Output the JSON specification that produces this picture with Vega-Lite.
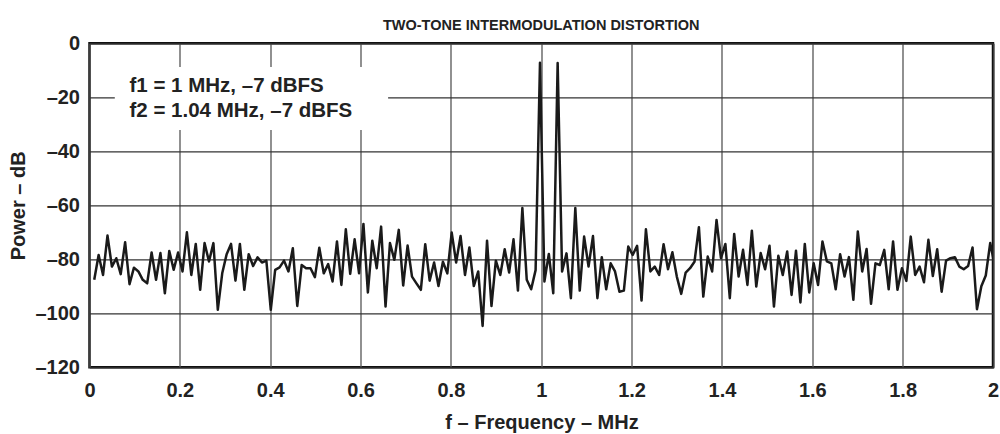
{
  "$schema": "https://vega.github.io/schema/vega-lite/v6.json",
  "autosize": {"type": "none"},
  "width": 903.5,
  "height": 324,
  "padding": {"left": 89.5, "top": 43.3, "right": 7, "bottom": 66.7},
  "background": "white",
  "title": {
    "text": "TWO-TONE INTERMODULATION DISTORTION",
    "font": "Liberation Sans",
    "fontSize": 14.5,
    "fontWeight": "bold",
    "color": "#222",
    "anchor": "middle",
    "frame": "group",
    "baseline": "alphabetic",
    "offset": 16,
    "dy": 27
  },
  "config": {
    "view": {"stroke": "#111", "strokeWidth": 2.5},
    "font": "Liberation Sans",
    "axis": {
      "labelFont": "Liberation Sans",
      "labelFontWeight": "bold",
      "labelFontSize": 20,
      "labelColor": "#222",
      "titleFont": "Liberation Sans",
      "titleFontWeight": "bold",
      "titleFontSize": 20,
      "titleColor": "#222",
      "domain": false,
      "ticks": false,
      "gridOpacity": 1
    }
  },
  "layer": [
    {
      "data": {
        "values": [
          {"f": 0.0105, "db": -87.6}, {"f": 0.0202, "db": -78.4}, {"f": 0.0300, "db": -85.8}, {"f": 0.0398, "db": -71.2}, {"f": 0.0496, "db": -82.7},
          {"f": 0.0593, "db": -79.6}, {"f": 0.0691, "db": -85.5}, {"f": 0.0789, "db": -73.7}, {"f": 0.0886, "db": -89.2}, {"f": 0.0984, "db": -83.1},
          {"f": 0.1082, "db": -84.5}, {"f": 0.1179, "db": -87.6}, {"f": 0.1277, "db": -88.9}, {"f": 0.1375, "db": -77.5}, {"f": 0.1473, "db": -87.6},
          {"f": 0.1570, "db": -77.7}, {"f": 0.1668, "db": -92.6}, {"f": 0.1766, "db": -76.9}, {"f": 0.1863, "db": -83.9}, {"f": 0.1961, "db": -77.5},
          {"f": 0.2059, "db": -84.5}, {"f": 0.2156, "db": -70.0}, {"f": 0.2254, "db": -85.8}, {"f": 0.2352, "db": -74.3}, {"f": 0.2450, "db": -91.3},
          {"f": 0.2547, "db": -74.0}, {"f": 0.2645, "db": -80.8}, {"f": 0.2743, "db": -74.0}, {"f": 0.2840, "db": -98.7}, {"f": 0.2938, "db": -85.2},
          {"f": 0.3036, "db": -78.1}, {"f": 0.3133, "db": -74.3}, {"f": 0.3231, "db": -87.9}, {"f": 0.3329, "db": -74.3}, {"f": 0.3427, "db": -91.3},
          {"f": 0.3524, "db": -78.1}, {"f": 0.3622, "db": -82.5}, {"f": 0.3720, "db": -79.3}, {"f": 0.3817, "db": -81.2}, {"f": 0.3915, "db": -80.5},
          {"f": 0.4013, "db": -98.7}, {"f": 0.4110, "db": -83.9}, {"f": 0.4208, "db": -83.0}, {"f": 0.4306, "db": -80.5}, {"f": 0.4404, "db": -84.5},
          {"f": 0.4501, "db": -75.9}, {"f": 0.4599, "db": -97.3}, {"f": 0.4697, "db": -82.1}, {"f": 0.4794, "db": -83.3}, {"f": 0.4892, "db": -83.3},
          {"f": 0.4990, "db": -86.6}, {"f": 0.5087, "db": -75.7}, {"f": 0.5185, "db": -85.2}, {"f": 0.5283, "db": -81.8}, {"f": 0.5381, "db": -88.2},
          {"f": 0.5478, "db": -73.4}, {"f": 0.5576, "db": -89.5}, {"f": 0.5674, "db": -68.9}, {"f": 0.5771, "db": -85.4}, {"f": 0.5869, "db": -72.6},
          {"f": 0.5967, "db": -85.2}, {"f": 0.6064, "db": -66.9}, {"f": 0.6162, "db": -92.3}, {"f": 0.6260, "db": -73.1}, {"f": 0.6358, "db": -83.3},
          {"f": 0.6455, "db": -67.9}, {"f": 0.6553, "db": -97.5}, {"f": 0.6651, "db": -74.0}, {"f": 0.6748, "db": -80.2}, {"f": 0.6846, "db": -69.1},
          {"f": 0.6944, "db": -89.7}, {"f": 0.7041, "db": -74.9}, {"f": 0.7139, "db": -86.4}, {"f": 0.7237, "db": -88.9}, {"f": 0.7335, "db": -91.3},
          {"f": 0.7432, "db": -74.4}, {"f": 0.7530, "db": -87.9}, {"f": 0.7628, "db": -81.2}, {"f": 0.7725, "db": -89.9}, {"f": 0.7823, "db": -80.9},
          {"f": 0.7921, "db": -85.2}, {"f": 0.8018, "db": -70.1}, {"f": 0.8116, "db": -81.2}, {"f": 0.8214, "db": -71.4}, {"f": 0.8312, "db": -85.8},
          {"f": 0.8409, "db": -75.6}, {"f": 0.8507, "db": -89.9}, {"f": 0.8605, "db": -84.5}, {"f": 0.8702, "db": -104.7}, {"f": 0.8800, "db": -73.1},
          {"f": 0.8898, "db": -97.3}, {"f": 0.8995, "db": -80.5}, {"f": 0.9093, "db": -85.8}, {"f": 0.9191, "db": -76.3}, {"f": 0.9289, "db": -84.9},
          {"f": 0.9386, "db": -72.6}, {"f": 0.9484, "db": -91.6}, {"f": 0.9582, "db": -61.0}, {"f": 0.9679, "db": -87.6}, {"f": 0.9777, "db": -91.1},
          {"f": 0.9875, "db": -84.0}, {"f": 0.9972, "db": -7.2}, {"f": 1.0070, "db": -88.2}, {"f": 1.0168, "db": -78.0}, {"f": 1.0266, "db": -92.6},
          {"f": 1.0363, "db": -7.3}, {"f": 1.0461, "db": -84.5}, {"f": 1.0559, "db": -77.8}, {"f": 1.0656, "db": -94.4}, {"f": 1.0754, "db": -61.0},
          {"f": 1.0852, "db": -91.6}, {"f": 1.0949, "db": -71.6}, {"f": 1.1047, "db": -82.7}, {"f": 1.1145, "db": -71.4}, {"f": 1.1243, "db": -94.4},
          {"f": 1.1340, "db": -79.2}, {"f": 1.1438, "db": -91.1}, {"f": 1.1536, "db": -81.5}, {"f": 1.1633, "db": -84.5}, {"f": 1.1731, "db": -92.0},
          {"f": 1.1829, "db": -91.6}, {"f": 1.1926, "db": -75.3}, {"f": 1.2024, "db": -78.4}, {"f": 1.2122, "db": -75.0}, {"f": 1.2220, "db": -95.3},
          {"f": 1.2317, "db": -68.9}, {"f": 1.2415, "db": -84.5}, {"f": 1.2513, "db": -82.7}, {"f": 1.2610, "db": -85.8}, {"f": 1.2708, "db": -74.4},
          {"f": 1.2806, "db": -83.7}, {"f": 1.2903, "db": -77.4}, {"f": 1.3001, "db": -86.4}, {"f": 1.3099, "db": -92.8}, {"f": 1.3197, "db": -84.9},
          {"f": 1.3294, "db": -83.3}, {"f": 1.3392, "db": -80.9}, {"f": 1.3490, "db": -68.1}, {"f": 1.3587, "db": -93.8}, {"f": 1.3685, "db": -79.0},
          {"f": 1.3783, "db": -84.5}, {"f": 1.3880, "db": -65.4}, {"f": 1.3978, "db": -79.6}, {"f": 1.4076, "db": -74.3}, {"f": 1.4174, "db": -94.4},
          {"f": 1.4271, "db": -70.6}, {"f": 1.4369, "db": -86.4}, {"f": 1.4467, "db": -76.5}, {"f": 1.4564, "db": -89.5}, {"f": 1.4662, "db": -69.4},
          {"f": 1.4760, "db": -90.1}, {"f": 1.4857, "db": -77.7}, {"f": 1.4955, "db": -83.7}, {"f": 1.5053, "db": -75.0}, {"f": 1.5151, "db": -97.5},
          {"f": 1.5248, "db": -78.7}, {"f": 1.5346, "db": -85.8}, {"f": 1.5444, "db": -77.1}, {"f": 1.5541, "db": -93.2}, {"f": 1.5639, "db": -76.8},
          {"f": 1.5737, "db": -96.0}, {"f": 1.5834, "db": -74.3}, {"f": 1.5932, "db": -92.3}, {"f": 1.6030, "db": -81.5}, {"f": 1.6128, "db": -89.5},
          {"f": 1.6225, "db": -73.4}, {"f": 1.6323, "db": -80.8}, {"f": 1.6421, "db": -81.5}, {"f": 1.6518, "db": -91.1}, {"f": 1.6616, "db": -78.1},
          {"f": 1.6714, "db": -86.4}, {"f": 1.6811, "db": -79.2}, {"f": 1.6909, "db": -95.0}, {"f": 1.7007, "db": -69.7}, {"f": 1.7105, "db": -84.5},
          {"f": 1.7202, "db": -76.2}, {"f": 1.7300, "db": -96.5}, {"f": 1.7398, "db": -81.5}, {"f": 1.7495, "db": -82.1}, {"f": 1.7593, "db": -76.5},
          {"f": 1.7691, "db": -91.1}, {"f": 1.7788, "db": -73.4}, {"f": 1.7886, "db": -91.3}, {"f": 1.7984, "db": -83.3}, {"f": 1.8082, "db": -88.0},
          {"f": 1.8179, "db": -71.6}, {"f": 1.8277, "db": -85.8}, {"f": 1.8375, "db": -82.7}, {"f": 1.8472, "db": -88.5}, {"f": 1.8570, "db": -72.8},
          {"f": 1.8668, "db": -86.2}, {"f": 1.8765, "db": -76.3}, {"f": 1.8863, "db": -92.0}, {"f": 1.8961, "db": -80.5}, {"f": 1.9059, "db": -79.6},
          {"f": 1.9156, "db": -79.2}, {"f": 1.9254, "db": -82.7}, {"f": 1.9352, "db": -83.7}, {"f": 1.9449, "db": -82.5}, {"f": 1.9547, "db": -75.6},
          {"f": 1.9645, "db": -98.5}, {"f": 1.9742, "db": -90.0}, {"f": 1.9840, "db": -86.0}, {"f": 1.9938, "db": -74.0}, {"f": 2.0035, "db": -82.0}
        ]
      },
      "mark": {"type": "line", "color": "#1a1a1a", "strokeWidth": 2.5, "clip": true, "strokeJoin": "round"},
      "encoding": {
        "x": {
          "field": "f",
          "type": "quantitative",
          "scale": {"domain": [0, 2], "nice": false, "zero": false},
          "axis": {
            "values": [0, 0.2, 0.4, 0.6, 0.8, 1, 1.2, 1.4, 1.6, 1.8, 2],
            "format": "~g",
            "labelBaseline": "top",
            "labelPadding": 13,
            "labelFlush": false,
            "gridColor": "#555",
            "gridWidth": 1.3,
            "title": "f – Frequency – MHz",
            "titleX": 452,
            "titleY": 61,
            "titleAlign": "center",
            "titleBaseline": "alphabetic"
          }
        },
        "y": {
          "field": "db",
          "type": "quantitative",
          "scale": {"domain": [-120, 0], "nice": false, "zero": false},
          "axis": {
            "values": [-120, -100, -80, -60, -40, -20, 0],
            "labelExpr": "replace(toString(datum.value), '-', '–')",
            "labelPadding": 10,
            "labelBaseline": "middle",
            "labelFlush": false,
            "gridColor": "#333",
            "gridWidth": 1.3,
            "title": "Power – dB",
            "titleX": -71,
            "titleY": 162,
            "titleAngle": -90,
            "titleAlign": "center",
            "titleBaseline": "middle"
          }
        }
      }
    },
    {
      "data": {"values": [{"note": "f1 = 1 MHz, –7 dBFS\nf2 = 1.04 MHz, –7 dBFS"}]},
      "mark": {"type": "rect", "fill": "white", "stroke": null},
      "encoding": {
        "x": {"datum": 0.056, "type": "quantitative"},
        "x2": {"datum": 0.661},
        "y": {"datum": -8.8, "type": "quantitative"},
        "y2": {"datum": -32.1}
      }
    },
    {
      "data": {"values": [{"note": "f1 = 1 MHz, –7 dBFS\nf2 = 1.04 MHz, –7 dBFS"}]},
      "mark": {
        "type": "text",
        "align": "left",
        "baseline": "alphabetic",
        "lineBreak": "\n",
        "lineHeight": 25,
        "font": "Liberation Sans",
        "fontWeight": "bold",
        "fontSize": 20.5,
        "color": "#222"
      },
      "encoding": {
        "x": {"datum": 0.0886, "type": "quantitative"},
        "y": {"datum": -18.0, "type": "quantitative"},
        "text": {"field": "note"}
      }
    }
  ]
}
